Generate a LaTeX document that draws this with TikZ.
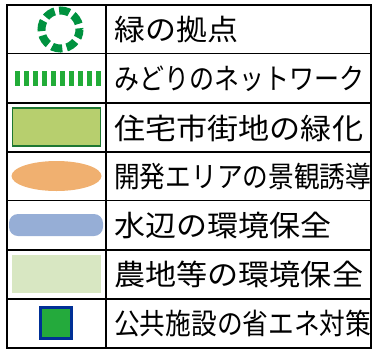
\documentclass[tikz,border=0pt]{standalone}
\usepackage{fontspec}
\usepackage{graphicx}
\usetikzlibrary{shapes.geometric}
\newfontfamily\jp{Noto Sans CJK JP}
\definecolor{ringgreen}{RGB}{0,146,63}
\definecolor{dashgreen}{RGB}{34,172,56}
\definecolor{urbgreen}{RGB}{183,207,110}
\definecolor{urbedge}{RGB}{30,120,50}
\definecolor{devorange}{RGB}{240,176,112}
\definecolor{waterblue}{RGB}{150,174,214}
\definecolor{farmgreen}{RGB}{216,231,194}
\definecolor{pubgreen}{RGB}{36,170,60}
\definecolor{pubblue}{RGB}{0,48,150}
\tikzset{
  grid/.style={line width=1.6pt, black},
  label/.style={anchor=west, inner sep=0pt, font=\jp\fontsize{29}{29}\selectfont},
}
\newcommand{\fitw}[2]{\resizebox{#1}{\height}{#2}}
\begin{document}
\begin{tikzpicture}[x=1pt,y=-1pt]
\useasboundingbox (0,0) rectangle (374,349);
% table grid
\draw[grid] (7,5) rectangle (371,348);
\draw[grid] (106,5) -- (106,348);
\foreach \yy in {53.5,103,152,200.5,250,299} \draw[grid] (7,\yy) -- (371,\yy);
% symbols
\node (s1) at (60.5,29.5) {};
\draw[ringgreen, line width=8pt, dash pattern=on 10.5pt off 4.5pt, dash phase=2pt] (s1.center) circle (19);
\coordinate (s2a) at (15,78);
\coordinate (s2b) at (101,78);
\draw[dashgreen, line width=15pt, dash pattern=on 5pt off 4pt] (s2a) -- (s2b);
\node[draw=urbedge, fill=urbgreen, line width=1.2pt, minimum width=88pt, minimum height=38pt, inner sep=0pt] (s3) at (56.5,127) {};
\node[ellipse, fill=devorange, minimum width=90pt, minimum height=30pt, inner sep=0pt] (s4) at (56.5,176) {};
\node[fill=waterblue, rounded corners=9pt, minimum width=94pt, minimum height=22pt, inner sep=0pt] (s5) at (56,225) {};
\node[fill=farmgreen, minimum width=89pt, minimum height=38pt, inner sep=0pt] (s6) at (56.5,274) {};
\node[draw=pubblue, fill=pubgreen, line width=2.4pt, minimum width=31pt, minimum height=31pt, inner sep=0pt] (s7) at (56,323) {};
% labels
\node[label] (t1) at (114,29.5) {\fitw{124pt}{緑の拠点}};
\node[label] (t2) at (114,78.5) {\fitw{250pt}{みどりのネットワーク}};
\node[label] (t3) at (114,128) {\fitw{249pt}{住宅市街地の緑化}};
\node[label] (t4) at (114,176.5) {\fitw{257pt}{開発エリアの景観誘導}};
\node[label] (t5) at (114,225.5) {\fitw{217pt}{水辺の環境保全}};
\node[label] (t6) at (114,274.5) {\fitw{249pt}{農地等の環境保全}};
\node[label] (t7) at (114,323.5) {\fitw{257pt}{公共施設の省エネ対策}};
\end{tikzpicture}
\end{document}
